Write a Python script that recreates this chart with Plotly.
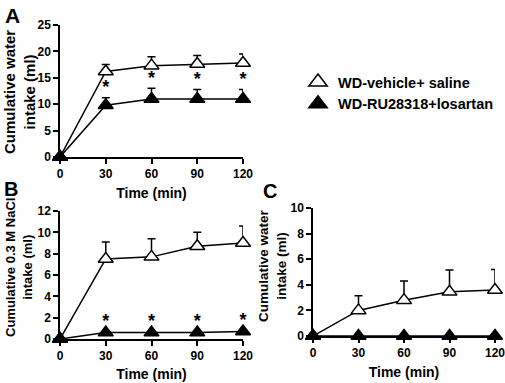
import plotly.graph_objects as go

time = [0, 30, 60, 90, 120]
tick_labels = ["0", "30", "60", "90", "120"]

# Panel A: cumulative water intake (ml)
a_vehicle = [0, 16.2, 17.3, 17.6, 17.8]
a_vehicle_err = [0, 1.3, 1.7, 1.6, 1.7]
a_ru = [0, 9.8, 11.0, 11.0, 11.0]
a_ru_err = [0, 1.4, 2.0, 1.8, 1.8]
a_sig = ["", "*", "*", "*", "*"]

# Panel B: cumulative 0.3 M NaCl intake (ml)
b_vehicle = [0, 7.5, 7.7, 8.7, 9.0]
b_vehicle_err = [0, 1.6, 1.7, 1.3, 1.6]
b_ru = [0, 0.6, 0.6, 0.6, 0.7]
b_ru_err = [0, 0.1, 0.1, 0.1, 0.1]
b_sig = ["", "*", "*", "*", "*"]

# Panel C: cumulative water intake (ml)
c_vehicle = [0, 2.0, 2.8, 3.45, 3.6]
c_vehicle_err = [0, 1.15, 1.5, 1.7, 1.6]
c_ru = [0, 0, 0, 0, 0]
c_ru_err = [0, 0, 0, 0, 0]

names = ["WD-vehicle+ saline", "WD-RU28318+losartan"]

FONT = "Arial, Liberation Sans, sans-serif"
W, H = 505, 383


def font(size):
    return dict(family=FONT, size=size, color="black", weight="bold")


fig = go.Figure()


def add_panel(xa, ya, veh, veh_err, ru, ru_err, sig=None):
    fig.add_trace(go.Scatter(
        x=time, y=veh, mode="lines+markers", xaxis=xa, yaxis=ya, showlegend=False,
        line=dict(color="black", width=1.5),
        marker=dict(symbol="triangle-up", size=13, color="white", line=dict(color="black", width=1.5)),
        error_y=dict(type="data", array=veh_err, arrayminus=[0] * len(veh), symmetric=False,
                     color="black", thickness=1.5, width=4),
        cliponaxis=False))
    fig.add_trace(go.Scatter(
        x=time, y=ru, mode="lines+markers", xaxis=xa, yaxis=ya, showlegend=False,
        line=dict(color="black", width=1.5),
        marker=dict(symbol="triangle-up", size=13, color="black", line=dict(color="black", width=1.5)),
        error_y=dict(type="data", array=ru_err, arrayminus=[0] * len(ru), symmetric=False,
                     color="black", thickness=1.5, width=4),
        cliponaxis=False))
    if sig is not None:
        fig.add_trace(go.Scatter(
            x=time, y=[v + e for v, e in zip(ru, ru_err)], mode="text", text=sig,
            textposition="top center", xaxis=xa, yaxis=ya, showlegend=False,
            textfont=font(18), cliponaxis=False))


add_panel("x", "y", a_vehicle, a_vehicle_err, a_ru, a_ru_err, a_sig)
add_panel("x2", "y2", b_vehicle, b_vehicle_err, b_ru, b_ru_err, b_sig)
add_panel("x3", "y3", c_vehicle, c_vehicle_err, c_ru, c_ru_err)

# legend-only entries
fig.add_trace(go.Scatter(x=[None], y=[None], mode="markers", name=names[0],
                         marker=dict(symbol="triangle-up", size=16, color="white",
                                     line=dict(color="black", width=1.5))))
fig.add_trace(go.Scatter(x=[None], y=[None], mode="markers", name=names[1],
                         marker=dict(symbol="triangle-up", size=16, color="black",
                                     line=dict(color="black", width=1.5))))


def xaxis(domain, anchor, standoff):
    return dict(domain=domain, anchor=anchor, range=[0, 120], tickvals=time, ticktext=tick_labels,
                showline=True, linecolor="black", linewidth=1.5, ticks="outside", ticklen=5,
                tickwidth=1.5, tickcolor="black", showgrid=False, zeroline=False,
                tickfont=font(12), ticklabeloverflow="allow",
                title=dict(text="Time (min)", font=font(14), standoff=standoff),
                automargin=False)


def yaxis(domain, anchor, rng, dtick):
    return dict(domain=domain, anchor=anchor, range=rng, dtick=dtick,
                showline=True, linecolor="black", linewidth=1.5, ticks="outside", ticklen=5,
                tickwidth=1.5, tickcolor="black", showgrid=False, zeroline=False,
                tickfont=font(12), automargin=False, ticklabeloverflow="allow")


def px(x0, x1):
    return [x0 / W, x1 / W]


def py(top, bottom):
    return [1 - bottom / H, 1 - top / H]


def ann(text, x, y, size, angle=0, xanchor="left", yanchor="top"):
    return dict(text=text, x=x / W, y=1 - y / H, xref="paper", yref="paper",
                xanchor=xanchor, yanchor=yanchor, showarrow=False, textangle=angle,
                font=font(size))


fig.update_layout(
    width=W, height=H, margin=dict(l=0, r=0, t=0, b=0),
    paper_bgcolor="white", plot_bgcolor="white",
    font=dict(family=FONT, color="black"),
    xaxis=xaxis(px(60, 243), "y", 8),
    yaxis=yaxis(py(25, 157), "x", [0, 25], 5),
    xaxis2=xaxis(px(60, 243), "y2", 7),
    yaxis2=yaxis(py(211, 339), "x2", [0, 12], 2),
    xaxis3=xaxis(px(313, 495), "y3", 8),
    yaxis3=yaxis(py(208, 336), "x3", [0, 10], 2),
    showlegend=True,
    legend=dict(x=298 / W, y=1 - 66 / H, xanchor="left", yanchor="top",
                bgcolor="rgba(0,0,0,0)", font=font(14.5),
                tracegroupgap=0, itemwidth=30),
    annotations=[
        ann("A", 3, 2, 21),
        ann("B", 2, 176, 20),
        ann("C", 261, 178, 20),
        ann("Cumulative water<br>intake (ml)", 20, 92, 15, -90, "center", "middle"),
        ann("Cumulative 0.3 M NaCl<br>intake (ml)", 19, 268, 13, -90, "center", "middle"),
        ann("Cumulative water<br>intake (ml)", 272, 266, 13.5, -90, "center", "middle"),
    ],
)

fig.write_html("out.html", config={"displayModeBar": False},
               post_script="document.body.style.margin='0';")
